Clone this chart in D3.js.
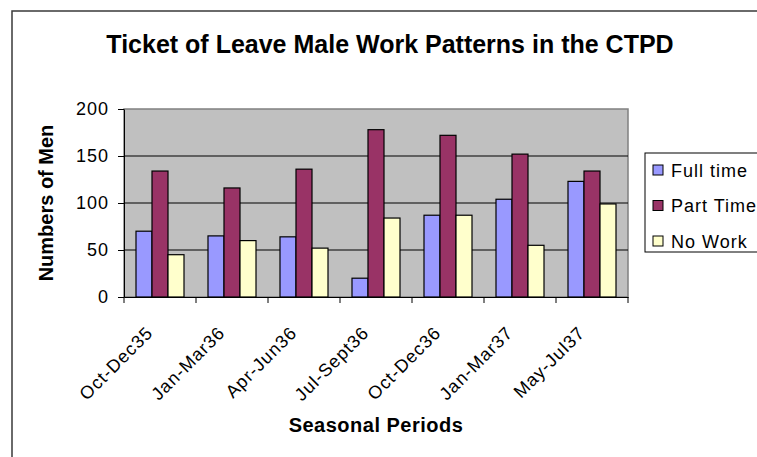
<!DOCTYPE html>
<html><head><meta charset="utf-8">
<script src="https://cdn.jsdelivr.net/npm/d3@7"></script>
<style>body{margin:0;background:#fff}svg{display:block;font-family:"Liberation Sans",Arial,sans-serif}</style>
</head><body><svg id="c" width="757" height="457"></svg>
<script>
const categories = ["Oct-Dec35","Jan-Mar36","Apr-Jun36","Jul-Sept36","Oct-Dec36","Jan-Mar37","May-Jul37"];
const seriesNames = ["Full time","Part Time","No Work"];
const fullTime = [70, 65, 64, 20, 87, 104, 123];
const partTime = [134, 116, 136, 178, 172, 152, 134];
const noWork   = [45, 60, 52, 84, 87, 55, 99];
const yTicks = [0, 50, 100, 150, 200];
const colors = ["#9999FF","#993366","#FFFFCC"];
const seriesValues = [fullTime, partTime, noWork];

const svg = d3.select("#c");
const m = {l:124, t:109, r:628, b:297};

// outer chart border
svg.append("rect").attr("x",12).attr("y",11).attr("width",760).attr("height",460)
  .attr("fill","#fff").attr("stroke","#3a3a3a").attr("stroke-width",1.5);

const x = d3.scaleBand().domain(categories).range([m.l, m.r]).paddingInner(0).paddingOuter(0);
const xs = d3.scaleBand().domain(seriesNames).range([0, x.bandwidth()]).paddingInner(0).paddingOuter(0.75);
const y = d3.scaleLinear().domain([0,200]).range([m.b, m.t]);

// plot area
svg.append("rect").attr("x",m.l).attr("y",m.t).attr("width",m.r-m.l).attr("height",m.b-m.t)
  .attr("fill","#C0C0C0").attr("stroke","#808080").attr("stroke-width",1.5);

// gridlines
svg.append("g").selectAll("line").data(yTicks.filter(v=>v>0 && v<200)).join("line")
  .attr("x1",m.l).attr("x2",m.r).attr("y1",d=>y(d)).attr("y2",d=>y(d))
  .attr("stroke","#000").attr("stroke-width",1);

// bars
const data = [];
categories.forEach((c,i)=>seriesNames.forEach((s,j)=>data.push({c,s,v:seriesValues[j][i],j})));
svg.append("g").selectAll("rect").data(data).join("rect")
  .attr("x",d=>x(d.c)+xs(d.s)).attr("width",xs.bandwidth())
  .attr("y",d=>y(d.v)).attr("height",d=>y(0)-y(d.v))
  .attr("fill",d=>colors[d.j]).attr("stroke","#000").attr("stroke-width",1.2);

// y axis
const ya = svg.append("g").attr("transform",`translate(${m.l},0)`)
  .call(d3.axisLeft(y).tickValues(yTicks).tickSize(6).tickSizeOuter(0).tickPadding(9));
ya.select(".domain").attr("stroke","#000");
ya.selectAll(".tick line").attr("stroke","#000");
ya.selectAll("text").attr("font-size",18).attr("letter-spacing",1).attr("fill","#000")
  .attr("font-family","Liberation Sans, Arial, sans-serif");

// x axis
const xa = svg.append("g").attr("transform",`translate(0,${m.b})`)
  .call(d3.axisBottom(x).tickSize(0).tickSizeOuter(0));
xa.select(".domain").attr("stroke","#000");
xa.selectAll(".tick text").remove();
svg.append("g").selectAll("line").data(categories.concat(["__end"])).join("line")
  .attr("x1",(d,i)=>m.l + i*x.step()).attr("x2",(d,i)=>m.l + i*x.step())
  .attr("y1",m.b).attr("y2",m.b+6).attr("stroke","#000");
svg.append("g").selectAll("text").data(categories).join("text")
  .attr("transform",d=>`translate(${x(d)+x.bandwidth()/2-6},${m.b+37}) rotate(-45)`)
  .attr("text-anchor","end").attr("font-size",18).attr("letter-spacing",1).attr("fill","#000").text(d=>d);

// titles
svg.append("text").attr("x",390).attr("y",53).attr("text-anchor","middle")
  .attr("font-size",25).attr("font-weight","bold").text("Ticket of Leave Male Work Patterns in the CTPD");
svg.append("text").attr("x",376).attr("y",432).attr("text-anchor","middle")
  .attr("font-size",20).attr("letter-spacing",0.5).attr("font-weight","bold").text("Seasonal Periods");
svg.append("text").attr("transform",`translate(53,203) rotate(-90)`).attr("text-anchor","middle")
  .attr("font-size",20).attr("font-weight","bold").text("Numbers of Men");

// legend
const lg = svg.append("g");
lg.append("rect").attr("x",645).attr("y",153).attr("width",130).attr("height",99)
  .attr("fill","#fff").attr("stroke","#000").attr("stroke-width",1);
const ly = d3.scalePoint().domain(seriesNames).range([170,241]);
lg.selectAll("rect.sw").data(seriesNames).join("rect").attr("class","sw")
  .attr("x",653).attr("y",d=>ly(d)-5).attr("width",10).attr("height",10)
  .attr("fill",(d,i)=>colors[i]).attr("stroke","#000").attr("stroke-width",1);
lg.selectAll("text").data(seriesNames).join("text")
  .attr("x",671).attr("y",d=>ly(d)+6.5).attr("font-size",18).attr("letter-spacing",1).text(d=>d);
</script></body></html>
